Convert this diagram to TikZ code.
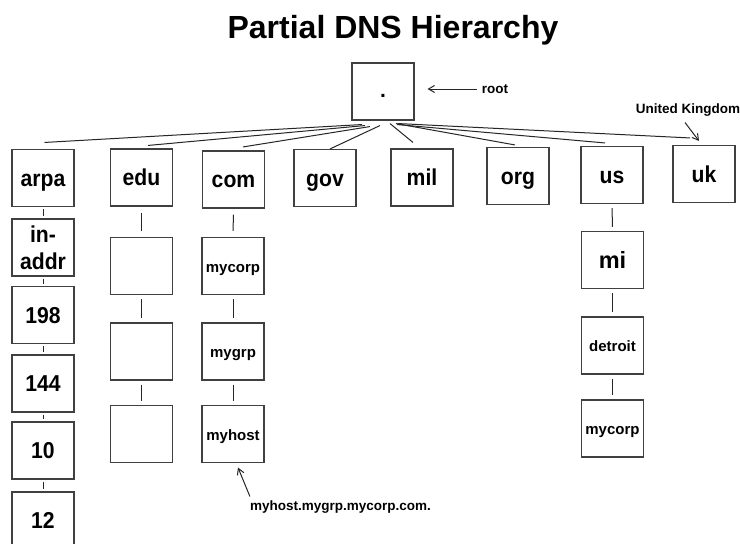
\documentclass[tikz,border=0pt]{standalone}
\usepackage{fontspec}
\setmainfont{Liberation Sans}
\newfontfamily\boxfont[FakeStretch=0.92]{Liberation Sans}
\usetikzlibrary{calc,arrows.meta}
\begin{document}
\begin{tikzpicture}[x=1pt,y=-1pt,
  frame/.style={draw=black!75,line width=1.1pt,minimum width=62pt,minimum height=57pt,inner sep=0pt},
  box/.style={frame,text height=20pt,text depth=4pt,font=\boxfont\fontsize{23}{27}\selectfont\bfseries},
  sbox/.style={frame,text height=15pt,text depth=3pt,font=\fontsize{15}{17}\selectfont\bfseries},
  link/.style={draw=black!85,line width=1pt},
  tick/.style={link,shorten <=2pt,shorten >=2pt},
  note/.style={font=\fontsize{13.5}{15}\selectfont\bfseries,inner sep=0pt},
  ptr/.style={link,-{Straight Barb[length=6pt,width=7pt]}}
]
\clip (0,0) rectangle (740,544);
\fill[white] (0,0) rectangle (740,544);

\node[font=\fontsize{32}{34}\selectfont\bfseries] (title) at (393,30.5) {Partial DNS Hierarchy};

% root
\node[frame,text height=12pt,text depth=0pt,font=\fontsize{21}{23}\selectfont\bfseries] (root) at (383,91.5) {.};
\node[note] (rootlbl) at (495,89) {root};
\draw[ptr,shorten <=5pt,shorten >=13pt] (rootlbl.west) -- (rootlbl.west -| root.east);

% top level domains
\node[box] (arpa) at (43,178) {arpa};
\node[box] (edu)  at (141.5,177.5) {edu};
\node[box] (com)  at (233.5,179.5) {com};
\node[box] (gov)  at (325,178) {gov};
\node[box] (mil)  at (422,177.5) {mil};
\node[box] (org)  at (518,176) {org};
\node[box] (us)   at (612,175) {us};
\node[box] (uk)   at (704,174) {uk};

\node[note] (uklbl) at (688,110) {United Kingdom};
\draw[ptr] ($(uklbl.south)+(-3,6)$) -- ($(uk.north)+(-5,-4)$);

% fan from root
\draw[link] ($(root.south)+(-21,4)$) -- ($(arpa.north)+(1.5,-6.5)$);
\draw[link] ($(root.south)+(-18,5)$) -- ($(edu.north)+(6.5,-3)$);
\draw[link] ($(root.south)+(-13,6)$) -- ($(com.north)+(9.5,-3.5)$);
\draw[link] ($(root.south)+(-3,5)$) -- ($(gov.north)+(5,0)$);
\draw[link] ($(root.south)+(7,3)$) -- ($(mil.north)+(-9,-6)$);
\draw[link] ($(root.south)+(13,3)$) -- ($(org.north)+(-3,-2)$);
\draw[link] ($(root.south)+(14,4)$) -- ($(us.north)+(-7,-3)$);
\draw[link] ($(root.south)+(15,3)$) -- ($(uk.north)+(-14,-7)$);

% arpa branch
\node[frame,align=center,font=\boxfont\fontsize{23}{27}\selectfont\bfseries] (inaddr) at (43,247.5) {in-\\addr};
\node[box] (n198) at (43,315) {198};
\node[box] (n144) at (43,383.5) {144};
\node[box] (n10)  at (43,450.5) {10};
\node[box] (n12)  at (43,520.5) {12};
\draw[tick] (arpa) -- (inaddr);
\draw[tick] (inaddr) -- (n198);
\draw[tick] (n198) -- (n144);
\draw[tick] (n144) -- (n10);
\draw[tick] (n10) -- (n12);

% edu branch
\node[frame] (edua) at (141.5,266) {};
\node[frame] (edub) at (141.5,351.5) {};
\node[frame] (educ) at (141.5,434) {};
\draw[tick,shorten <=6pt,shorten >=6pt] (edu) -- (edua);
\draw[tick,shorten <=4pt,shorten >=4pt] (edua) -- (edub);
\draw[tick,shorten <=4pt,shorten >=4pt] (edub) -- (educ);

% com branch
\node[sbox] (mycorp) at (233,266) {mycorp};
\node[sbox] (mygrp)  at (233,351.5) {mygrp};
\node[sbox] (myhost) at (233,434) {myhost};
\draw[tick,shorten <=6pt,shorten >=6pt] (com) -- (mycorp);
\draw[tick,shorten <=4pt,shorten >=4pt] (mycorp) -- (mygrp);
\draw[tick,shorten <=4pt,shorten >=4pt] (mygrp) -- (myhost);

\node[note] (fqdn) at (340.5,507) {myhost.mygrp.mycorp.com.};
\draw[ptr] ($(fqdn.north west)+(0,-4)$) -- ($(myhost.south)+(5,4.5)$);

% us branch
\node[frame,text height=17pt,text depth=0pt,font=\fontsize{23.5}{26}\selectfont\bfseries] (mi) at (612.5,260) {mi};
\node[sbox] (detroit) at (612.5,345.5) {detroit};
\node[sbox] (mycorpb) at (612.5,428.5) {mycorp};
\draw[tick,shorten <=4pt,shorten >=4pt] (us) -- (mi);
\draw[tick,shorten <=4pt,shorten >=4pt] (mi) -- (detroit);
\draw[tick,shorten <=4pt,shorten >=4pt] (detroit) -- (mycorpb);
\end{tikzpicture}
\end{document}
